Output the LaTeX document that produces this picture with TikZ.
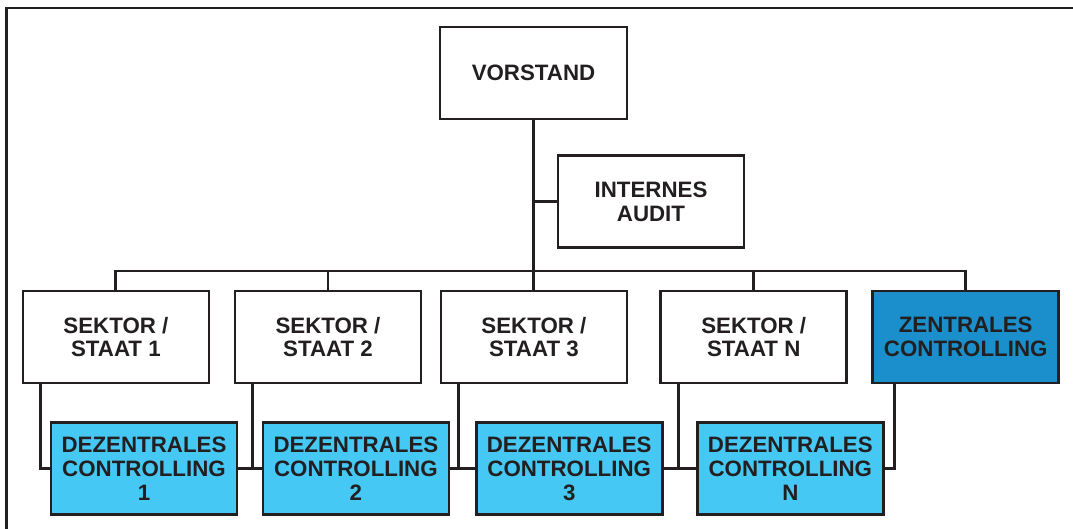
\documentclass[tikz,border=0pt]{standalone}
\usepackage{fontspec}
\setmainfont{Liberation Sans}
\definecolor{ink}{HTML}{231F20}
\definecolor{lightblue}{HTML}{45C8F3}
\definecolor{darkblue}{HTML}{1A8FCB}
\tikzset{
  box/.style={draw=ink, line width=2.8pt, minimum width=186pt, minimum height=92pt, inner sep=0pt,
    align=center, text=ink, font=\fontsize{22.3}{23.8}\selectfont\bfseries},
  plain/.style={box, fill=white},
  dz/.style={box, fill=lightblue},
  zc/.style={box, fill=darkblue},
  conn/.style={draw=ink, line width=2.9pt},
  trunk/.style={draw=ink, line width=3.8pt},
}
\begin{document}
\begin{tikzpicture}[x=1pt, y=-1pt]
\useasboundingbox (0,0) rectangle (1073,528);
% frame (open at right and bottom)
\draw[ink, line width=2.2pt] (6.5,530) -- (6.5,8) -- (1075,8);

\node[plain, minimum width=187pt] (vorstand) at (533.5,73) {VORSTAND};
\node[plain] (audit) at (651,201.7) {INTERNES\\AUDIT};

\node[plain] (s1) at (115.9,337) {SEKTOR /\\STAAT 1};
\node[plain] (s2) at (328,337) {SEKTOR /\\STAAT 2};
\node[plain] (s3) at (533.9,337) {SEKTOR /\\STAAT 3};
\node[plain] (sN) at (753.7,337) {SEKTOR /\\STAAT N};
\node[zc] (z) at (965.7,337) {ZENTRALES\\CONTROLLING};

\node[dz] (d1) at (144,468.7) {DEZENTRALES\\CONTROLLING\\1};
\node[dz] (d2) at (355.9,468.7) {DEZENTRALES\\CONTROLLING\\2};
\node[dz] (d3) at (569.2,468.7) {DEZENTRALES\\CONTROLLING\\3};
\node[dz] (dN) at (790.3,468.7) {DEZENTRALES\\CONTROLLING\\N};

\coordinate (bus) at (534,271);

% trunk and audit
\draw[trunk] (vorstand.south) -- (vorstand.south |- bus);
\draw[conn] (audit.west) -- (audit.west -| vorstand.south);

% bus
\draw[conn] (s1.north) -- (s1.north |- bus) -- (z.north |- bus) -- (z.north);
\draw[conn] (s2.north) -- (s2.north |- bus);
\draw[conn] (s3.north) -- (s3.north |- bus);
\draw[conn] (sN.north) -- (sN.north |- bus);

% lower links
\draw[conn] ([xshift=19pt]s1.south west) |- (d1.west);
\draw[conn] ([xshift=19pt]s2.south west) |- (d2.west);
\draw[conn] ([xshift=19pt]s3.south west) |- (d3.west);
\draw[conn] ([xshift=19pt]sN.south west) |- (dN.west);
\draw[conn] (d1.east) -- (d2.west);
\draw[conn] (d2.east) -- (d3.west);
\draw[conn] (d3.east) -- (dN.west);
\draw[conn] ([xshift=23.3pt]z.south west) |- (dN.east);
\end{tikzpicture}
\end{document}
